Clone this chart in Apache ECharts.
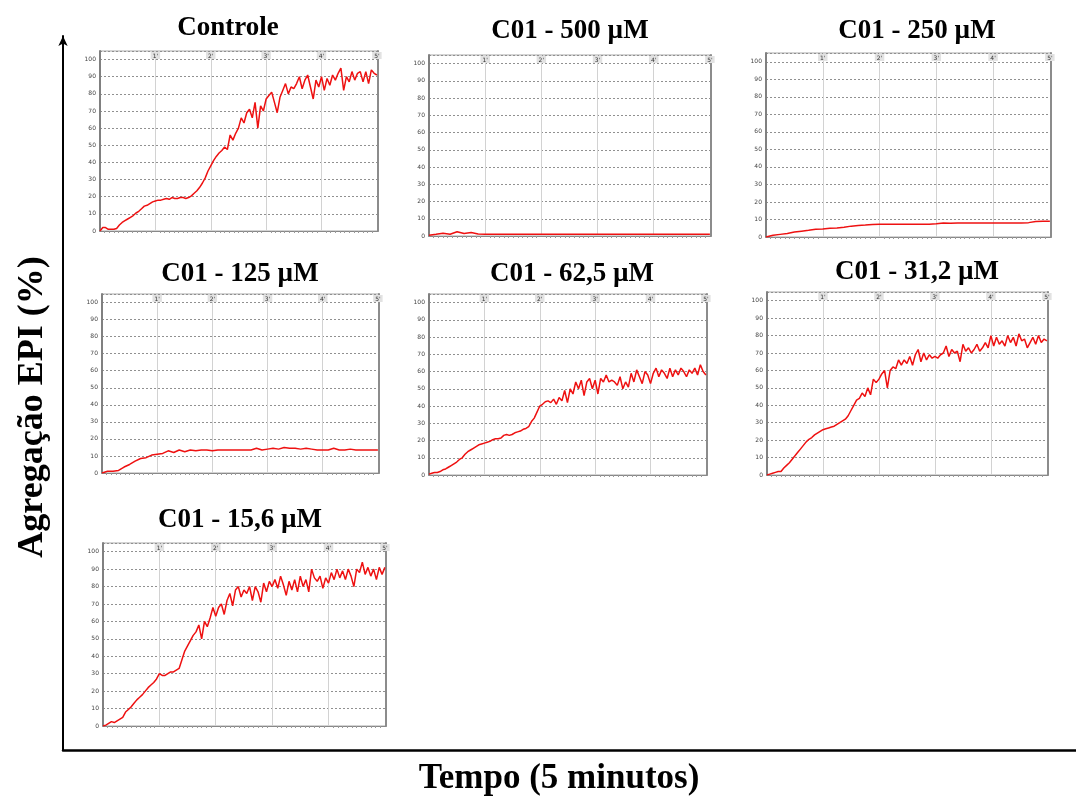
<!DOCTYPE html>
<html>
<head>
<meta charset="utf-8">
<script src="https://cdn.jsdelivr.net/npm/echarts@6/dist/echarts.min.js"></script>
<style>
html,body{margin:0;padding:0;background:#fff;}
#chart{width:1076px;height:800px;}
</style>
</head>
<body>
<div id="chart"></div>
<script>
// ---------------- DATA ----------------
const panelTitles = ["Controle", "C01 - 500 µM", "C01 - 250 µM", "C01 - 125 µM", "C01 - 62,5 µM", "C01 - 31,2 µM", "C01 - 15,6 µM"];
const xTickLabels = ["1'", "2'", "3'", "4'", "5'"];
const yTicks = [0, 10, 20, 30, 40, 50, 60, 70, 80, 90, 100];
const yAxisTitle = "Agregação EPI (%)";
const xAxisTitle = "Tempo (5 minutos)";
const totalMinutes = 5;

// Each series is sampled evenly over 0..5 minutes
const controle = [0,2,2,1,1,1,1.5,3.5,5,6,7,8,9,10.5,11.5,13,14.5,15,16,17,17.5,
  18,18,18.5,19,18.5,19.5,19,19,19.5,19.5,19,19.5,20.5,22,23.5,25.5,28,31,35,38,
  41,43.5,45.5,47,49,47.5,56,53,57,60,66,63,69,71,66,75,60,73,70,77,
  79,81,75,69,78,82,86,80,84,83,86,90,83,88,91,84,77,88,84,90,
  82,89,85,91,88,92,95,82,90,87,93,88,92,93,87,93,86,94,92,91];
const c500 = [0.5,1,1.6,1,2.5,1.5,2,1.2,1,1,1,1,1,1,1,1,1,1,1,1,1,1,1,1,1,1,1,1,1,1,1,1,1,1,1,1,1,1,1,1,1];
const c250 = [0,1,1.5,2,2.8,3.3,3.8,4.4,4.5,5,5.1,5.5,6.2,6.5,6.8,7.2,7.3,
  7.3,7.3,7.3,7.3,7.3,7.3,7.3,7.5,8,7.8,8,8,8,8,8,8,8,8,8,8,8.2,8.8,9,9];
const c125 = [0,1,1,1.5,3.5,5,7,8.5,9,10.5,11,
  11.5,13,12,13.5,12.5,13.5,13,13.5,13.5,13,
  13.5,13.5,13.5,13.5,13.5,13.5,13.5,14.5,13.5,14,
  14.5,14,15,14.5,14.5,14,14.5,14,13.5,13.5,
  13.5,14.5,13.5,13.5,14,13.5,13.5,13.5,13.5,13.5];
const c62 = [0.5,1,1.5,1.5,2,3,3.5,4.5,5.5,6.5,7.5,9,10,12,13.5,14.5,15.5,16.5,17.5,18,18.5,
  19,19.5,20.5,21,21,21.5,23,23.5,23,23.5,24.5,25,25.5,26.5,27,28,31,33,36.5,40,
  41,42.5,43,42,44,41,45,43,49,42,50,47,54,50,55,46,54,56,50,55,
  47,56,54,58,54,55,54,52,57,50,54,51,59,54,61,57,53,60,58,53,
  59,62,57,61,59,56,62,57,61,58,62,60,57,61,59,62,58,64,60,58];
const c31 = [0,0.5,1,1.5,2,2,4,5.5,7,9,11,13,15,17,19,20.5,21.5,23,24,25,26,
  26.5,27,27.5,28,29,30,31,32,34,37,40,43,44,47,45,50,46,55,53,55,
  58,60,50,60,62,61,66,63,66,64,68,63,69,72,65,70,66,69,67,68,
  67,69,70,74,68,72,70,71,65,75,71,73,70,72,75,71,73,76,73,80,
  74,79,75,77,74,80,76,79,74,81,77,78,73,76,79,75,80,76,78,77];
const c15 = [0,0.5,1.5,2.5,2,3,4,5,8,9.5,11,13,15,16.5,18,20,22,23.5,25,27,30,
  29,29,30,31,31,32,33,38,43,46,49,52,54,58,50,60,57,62,68,63,
  68,70,64,72,76,69,78,80,74,78,76,80,72,80,77,71,82,77,83,80,
  84,79,86,81,75,83,78,84,77,86,80,84,77,90,85,83,86,79,85,82,
  88,84,90,85,89,84,90,86,80,90,88,94,87,91,86,90,84,91,87,91];
const seriesValues = [controle, c500, c250, c125, c62, c31, c15];

// ---------------- LAYOUT ----------------
const panels = [
  {left:100, top:51, width:278, height:180, tx:228, ty:28},
  {left:429, top:55, width:282, height:181, tx:570, ty:31},
  {left:766, top:53, width:285, height:184, tx:917, ty:31},
  {left:102, top:294, width:277, height:179, tx:240, ty:274},
  {left:429, top:294, width:278, height:181, tx:572, ty:274},
  {left:767, top:292, width:281, height:183, tx:917, ty:272},
  {left:103, top:543, width:283, height:183, tx:240, ty:520}
];
const X_MAX = 5.02, Y_MAX = 105;

const chart = echarts.init(document.getElementById('chart'), null, {renderer:'canvas'});
const grid = [], xAxis = [], yAxis = [], series = [], graphic = [];

// outer frame (index 0)
grid.push({left:63, top:36, right:0, bottom:50, outerBoundsMode:'none', containLabel:false});
xAxis.push({type:'value', gridIndex:0, min:0, max:1, axisLine:{show:true, onZero:false, lineStyle:{color:'#000', width:2.5}},
  axisTick:{show:false}, axisLabel:{show:false}, splitLine:{show:false}});
yAxis.push({type:'value', gridIndex:0, min:0, max:1, axisLine:{show:true, onZero:false, symbol:['none','arrow'], symbolSize:[7,10], lineStyle:{color:'#000', width:2}},
  axisTick:{show:false}, axisLabel:{show:false}, splitLine:{show:false}});

graphic.push({type:'text', x:559, y:779, style:{text:xAxisTitle, textAlign:'center', textVerticalAlign:'middle',
  font:'bold 35px "Liberation Serif"', fill:'#000'}});
graphic.push({type:'text', x:33, y:407, rotation:Math.PI/2, style:{text:yAxisTitle, textAlign:'center', textVerticalAlign:'middle',
  font:'bold 36px "Liberation Serif"', fill:'#000'}});

panels.forEach((p, i) => {
  const g = i + 1;
  grid.push({left:p.left, top:p.top, width:p.width, height:p.height, show:true, borderColor:'#a8a8a8', borderWidth:1,
    backgroundColor:'#fff', outerBoundsMode:'none', containLabel:false});
  // bottom x axis: grid lines
  xAxis.push({type:'value', gridIndex:g, min:0, max:X_MAX, interval:1, position:'bottom',
    axisLine:{show:true, onZero:false, lineStyle:{color:'#888', width:1}},
    axisTick:{show:false}, minorTick:{show:true, splitNumber:12, length:2, lineStyle:{color:'#999'}},
    axisLabel:{show:false}, splitLine:{show:true, lineStyle:{color:'#d2d2d2', width:1}}});
  // top x axis: minute labels
  xAxis.push({type:'value', gridIndex:g, min:0, max:X_MAX, interval:1, position:'top',
    axisLine:{show:false}, axisTick:{show:false}, splitLine:{show:false},
    axisLabel:{inside:true, margin:1, showMinLabel:false, showMaxLabel:false, fontSize:6, color:'#333',
      fontFamily:'DejaVu Sans', backgroundColor:'#e2e2e2', padding:[1,2,0,2],
      formatter:(v)=>{ const k = Math.round(v); return (k>=1 && k<=5 && Math.abs(v-k)<1e-6) ? xTickLabels[k-1] : ''; }}});
  yAxis.push({type:'value', gridIndex:g, min:0, max:Y_MAX, interval:10, position:'left',
    axisLine:{show:true, onZero:false, lineStyle:{color:'#808080', width:2}},
    axisTick:{show:false}, splitLine:{show:true, lineStyle:{color:'#909090', width:1, type:[2,2]}},
    axisLabel:{fontSize:6, color:'#444', margin:4, fontFamily:'DejaVu Sans', showMaxLabel:false,
      formatter:(v)=> yTicks.indexOf(v) >= 0 ? String(v) : ''}});
  yAxis.push({type:'value', gridIndex:g, min:0, max:Y_MAX, position:'right',
    axisLine:{show:true, onZero:false, lineStyle:{color:'#8c8c8c', width:2}},
    axisTick:{show:false}, axisLabel:{show:false}, splitLine:{show:false}});
  const vals = seriesValues[i];
  const n = vals.length;
  series.push({type:'line', xAxisIndex:1 + i*2, yAxisIndex:1 + i*2, showSymbol:false, symbol:'none',
    lineStyle:{color:'#ee1111', width:1.5}, animation:false,
    data: vals.map((v, k) => [k * totalMinutes / (n - 1), v])});
  graphic.push({type:'text', x:p.tx, y:p.ty, style:{text:panelTitles[i],
    textAlign:'center', textVerticalAlign:'middle', font:'bold 27px "Liberation Serif"', fill:'#000'}});
});

chart.setOption({animation:false, backgroundColor:'#fff', grid, xAxis, yAxis, series, graphic});
</script>
</body>
</html>
